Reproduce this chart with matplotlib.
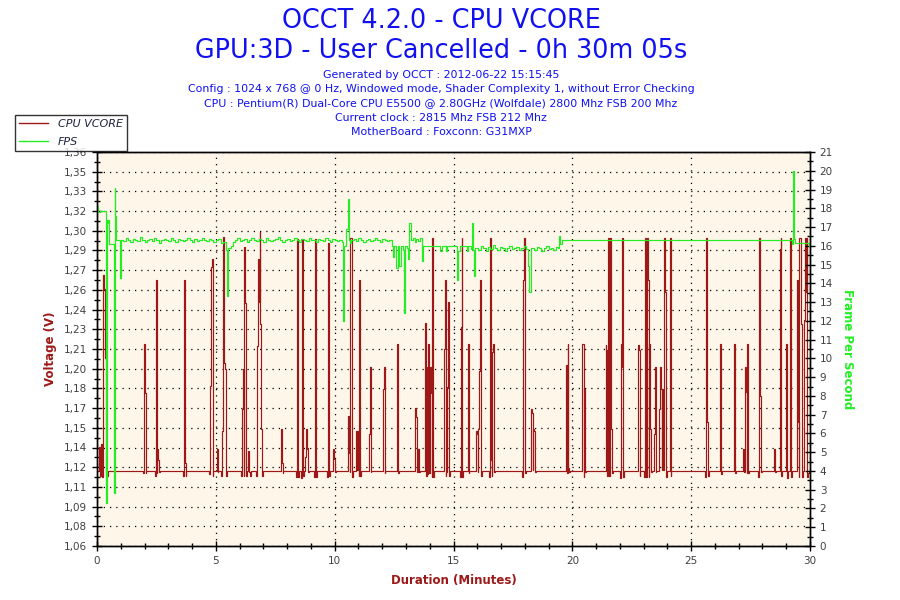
import matplotlib
matplotlib.use('Agg')
import matplotlib.pyplot as plt
from matplotlib.lines import Line2D
import numpy as np

# ---- data ----
vcore_base = 1.1176
sample_step = 0.035   # minutes between log samples

spike_t = [0.10, 1.94, 2.44, 3.62, 4.72, 5.04, 5.22, 6.06, 6.36, 6.70,
           7.74, 8.37, 8.58, 8.75, 9.12, 9.67, 9.94, 10.56, 10.90, 11.44,
           12.03, 12.62, 13.40, 13.80, 14.60, 15.27, 15.60, 15.94, 16.50, 17.90,
           18.26, 19.73, 20.40, 21.40, 22.00, 22.76, 23.03, 23.43, 23.65, 24.10,
           25.60, 26.20, 26.80, 27.20, 27.35, 27.80, 28.50, 28.73, 29.00, 29.15,
           29.45, 29.75]
spike_v = [
    [1.136, 1.114, 1.138, 1.113, 1.268, 1.265, 1.257, 1.204, 1.114, 1.114],
    [1.116, 1.215, 1.177, 1.116],
    [1.114, 1.264, 1.116, 1.134, 1.126, 1.117],
    [1.114, 1.264, 1.124, 1.114],
    [1.115, 1.183, 1.274, 1.280, 1.114],
    [1.134, 1.117],
    [1.114, 1.148, 1.297, 1.297, 1.200, 1.196, 1.114],
    [1.114, 1.165, 1.196, 1.114, 1.289, 1.246, 1.114],
    [1.133, 1.117, 1.114],
    [1.114, 1.213, 1.280, 1.247, 1.301, 1.230, 1.150, 1.114],
    [1.150, 1.124, 1.116],
    [1.113, 1.295, 1.275, 1.113],
    [1.112, 1.295, 1.214, 1.114],
    [1.128, 1.150, 1.134, 1.135, 1.117],
    [1.113, 1.229, 1.295, 1.113],
    [1.113, 1.162, 1.292, 1.114],
    [1.134, 1.127, 1.117],
    [1.160, 1.131, 1.117, 1.296, 1.296, 1.113],
    [1.148, 1.118, 1.148, 1.114, 1.264, 1.114],
    [1.146, 1.197, 1.117],
    [1.180, 1.197, 1.116],
    [1.215, 1.116],
    [1.166, 1.159, 1.117, 1.134, 1.117],
    [1.231, 1.114, 1.197, 1.115, 1.215, 1.116, 1.197, 1.177, 1.113, 1.296, 1.113],
    [1.211, 1.264, 1.114, 1.117, 1.182, 1.247, 1.114],
    [1.113, 1.228, 1.296, 1.113],
    [1.215, 1.116],
    [1.148, 1.146, 1.117, 1.150, 1.194, 1.264, 1.114],
    [1.113, 1.296, 1.126, 1.114, 1.209, 1.215, 1.117],
    [1.113, 1.264, 1.296, 1.116],
    [1.165, 1.162, 1.118, 1.150, 1.148, 1.117],
    [1.199, 1.116, 1.215, 1.120, 1.117],
    [1.215, 1.215, 1.113, 1.180, 1.117],
    [1.214, 1.210, 1.114, 1.296, 1.114, 1.296, 1.275, 1.150, 1.116],
    [1.112, 1.215, 1.197, 1.296, 1.113],
    [1.214, 1.210, 1.114],
    [1.113, 1.296, 1.113, 1.296, 1.264, 1.113, 1.215, 1.150, 1.117],
    [1.146, 1.197, 1.117],
    [1.165, 1.197, 1.180, 1.118, 1.180, 1.118, 1.296, 1.255, 1.113],
    [1.296, 1.114],
    [1.113, 1.296, 1.155, 1.114],
    [1.215, 1.176, 1.115],
    [1.215, 1.116],
    [1.134, 1.117, 1.197, 1.178, 1.116],
    [1.215, 1.116],
    [1.113, 1.180, 1.296, 1.175, 1.117],
    [1.134, 1.117],
    [1.288, 1.296, 1.114],
    [1.215, 1.112],
    [1.296, 1.255, 1.113],
    [1.264, 1.155, 1.113, 1.296, 1.296, 1.230, 1.113],
    [1.233, 1.296, 1.255, 1.296, 1.113, 1.116],
]

fps_event_t = [0.00, 0.05, 0.12, 0.36, 0.41, 0.44, 0.47, 0.49, 0.71, 0.74, 0.77, 0.80, 0.97,
               5.20, 5.32, 5.42, 5.47, 5.50, 5.65, 5.72,
               10.36, 10.40, 10.48, 10.54, 10.60, 10.65,
               12.40, 12.44, 12.50, 12.60, 12.66, 12.72, 12.80, 12.86, 12.92, 12.96,
               13.04, 13.08, 13.12, 13.14, 13.20, 13.28, 13.36, 13.44, 13.52, 13.60,
               13.66, 13.70, 14.45, 14.50, 14.68, 14.74, 15.16, 15.20, 15.26, 15.55,
               15.60, 15.72, 15.76, 15.80, 15.84, 15.88, 15.92,
               18.15, 18.19, 18.24, 18.28,
               19.40, 19.45, 19.50, 19.55, 29.24, 29.28, 29.31, 29.34, 29.38, 29.95, 30.00]
fps_event_v = [18.1, 17.8, 17.85, 2.3, 17.4, 17.2, 17.4, 16.1, 2.8, 19.1, 17.6, 16.3, 14.3,
               16.15, 16.2, 15.8, 13.3, 15.9, 16.0, 16.2,
               11.97, 16.0, 16.9, 18.47, 16.3, 16.15,
               16.0, 15.4, 16.0, 14.8, 16.0, 14.9, 16.0, 15.8, 12.4, 16.0,
               15.9, 15.3, 16.0, 17.2, 16.3, 16.4, 16.2, 16.35, 16.25, 16.4,
               15.2, 15.98, 15.75, 15.98, 15.7, 15.98, 14.2, 15.7, 15.98, 15.75,
               15.98, 15.85, 17.2, 16.3, 15.8, 14.4, 15.9,
               14.9, 13.55, 14.8, 15.9,
               15.9, 16.5, 16.1, 16.33, 16.1, 19.97, 18.15, 16.35, 16.15, 15.98, 15.98]

noise_start = [1.00, 5.80, 10.70, 15.95, 18.30]
noise_a = [16.3, 16.25, 16.4, 16.3, 16.2, 16.35, 16.3, 16.25, 16.45, 16.3, 16.2, 16.3, 16.35, 16.25,
           16.4, 16.3, 16.15, 16.3, 16.35, 16.3, 16.25, 16.4, 16.3, 16.2, 16.35, 16.3, 16.25, 16.3,
           16.4, 16.3, 16.2, 16.35, 16.25, 16.3, 16.4, 16.3, 16.25, 16.35, 16.3, 16.2, 16.3, 16.35]
noise_b = [16.3, 16.4, 16.25, 16.3, 16.35, 16.2, 16.3, 16.4, 16.3, 16.25, 16.35, 16.3, 16.2, 16.4,
           16.3, 16.25, 16.3, 16.35, 16.45, 16.3, 16.2, 16.3, 16.35, 16.25, 16.3, 16.4, 16.3, 16.2,
           16.35, 16.3, 16.25, 16.4, 16.3, 16.3, 16.2, 16.35, 16.3, 16.25, 16.4, 16.3, 16.2, 16.35,
           16.3, 16.25, 16.3, 16.2]
noise_c = [16.3, 16.35, 16.25, 16.4, 16.3, 16.2, 16.3, 16.35, 16.25, 16.3, 16.4, 16.3, 16.2, 16.35,
           16.3, 16.25, 16.3]
noise_d = [15.9, 15.8, 16.0, 15.9, 15.75, 15.95, 15.85, 16.05, 15.9, 15.8, 15.95, 15.9, 15.7, 15.9,
           16.0, 15.85, 15.9, 15.95, 15.8, 15.9, 16.0, 15.85]
noise_e = [15.9, 15.8, 15.95, 15.9, 15.75, 15.9, 16.0, 15.85, 15.9, 15.8, 15.95]
noise_vals = [noise_a, noise_b, noise_c, noise_d, noise_e]
noise_step = 0.1

title_main = ['OCCT 4.2.0 - CPU VCORE', 'GPU:3D - User Cancelled - 0h 30m 05s']
info_lines = ['Generated by OCCT : 2012-06-22 15:15:45',
              'Config : 1024 x 768 @ 0 Hz, Windowed mode, Shader Complexity 1, without Error Checking',
              'CPU : Pentium(R) Dual-Core CPU E5500 @ 2.80GHz (Wolfdale) 2800 Mhz FSB 200 Mhz',
              'Current clock : 2815 Mhz FSB 212 Mhz',
              'MotherBoard : Foxconn: G31MXP']

v_lo, v_hi = 1.06, 1.362
fps_hi = 21

# ---- build series ----
vt, vv = [0.0], [vcore_base]
for t0, vals in zip(spike_t, spike_v):
    for i, v in enumerate(vals):
        vt.append(t0 + i * sample_step)
        vv.append(v)
    vt.append(t0 + len(vals) * sample_step)
    vv.append(vcore_base)
vt.append(30.0)
vv.append(vcore_base)

ft, fv = list(fps_event_t), list(fps_event_v)
for s, vals in zip(noise_start, noise_vals):
    for i, v in enumerate(vals):
        ft.append(s + i * noise_step)
        fv.append(v)
order = np.argsort(ft, kind='stable')
ft = np.array(ft)[order]
fv = np.array(fv)[order]

# ---- figure ----
red = '#9E1818'
green = '#22EE22'
blue = '#1010F0'
tick_col = '#404040'

fig = plt.figure(figsize=(9, 6), dpi=100)
ax = fig.add_axes([97 / 900, 1 - 546 / 600, 713 / 900, 394 / 600])
ax.set_facecolor('#FDF6E9')
ax2 = ax.twinx()

ax.plot(vt, vv, drawstyle='steps-post', color=red, lw=0.85)
ax2.plot(ft, fv, drawstyle='steps-post', color=green, lw=0.85)

ax.set_xlim(0, 30)
ax.set_ylim(v_lo, v_hi)
ax2.set_ylim(0, fps_hi)

vticks = np.linspace(v_lo, v_hi, 21)
ax.set_yticks(vticks)
ax.set_yticklabels([('%.2f' % v).replace('.', ',') for v in vticks])
ax.set_yticks((vticks[:-1] + vticks[1:]) / 2, minor=True)
ax.set_xticks(range(0, 31, 5))
ax.set_xticks(range(0, 31), minor=True)
ax2.set_yticks(range(0, fps_hi + 1))
ax2.set_yticks(np.arange(0.5, fps_hi, 1), minor=True)

for a in (ax, ax2):
    a.tick_params(which='major', direction='inout', length=7, width=1, labelsize=7.5,
                  labelcolor=tick_col, color='black')
    a.tick_params(which='minor', direction='inout', length=4, width=1, color='black')
    for sp in a.spines.values():
        sp.set_color('black')
        sp.set_linewidth(1)

ax.grid(True, which='major', color='black', linestyle=(0, (1, 4)), linewidth=0.9)

ax.set_ylabel('Voltage (V)', color=red, fontsize=8.5, fontweight='bold', labelpad=5)
ax.set_xlabel('Duration (Minutes)', color=red, fontsize=8.5, fontweight='bold', labelpad=6)
ax2.set_ylabel('Frame Per Second', color=green, fontsize=8.5, fontweight='bold',
               rotation=270, labelpad=15)

fig.text(0.49, 1 - 21.5 / 600, title_main[0], ha='center', va='center', fontsize=18.4, color=blue)
fig.text(0.49, 1 - 50.5 / 600, title_main[1], ha='center', va='center', fontsize=18.4, color=blue)
for i, line in enumerate(info_lines):
    fig.text(0.49, 1 - (75 + i * 14.2) / 600, line, ha='center', va='center',
             fontsize=7.95, color=blue)

handles = [Line2D([], [], color=red, lw=1), Line2D([], [], color=green, lw=1)]
leg = fig.legend(handles, ['CPU VCORE', 'FPS'], loc='upper left',
                 bbox_to_anchor=(15 / 900, 1 - 115 / 600), fancybox=False,
                 prop={'style': 'italic', 'size': 8}, handlelength=2.6, handletextpad=0.9,
                 borderpad=0.35, labelspacing=0.7, borderaxespad=0)
leg.get_frame().set_edgecolor('black')
leg.get_frame().set_linewidth(1)
for txt in leg.get_texts():
    txt.set_color('#202040')

fig.savefig('out.png', dpi=100)
